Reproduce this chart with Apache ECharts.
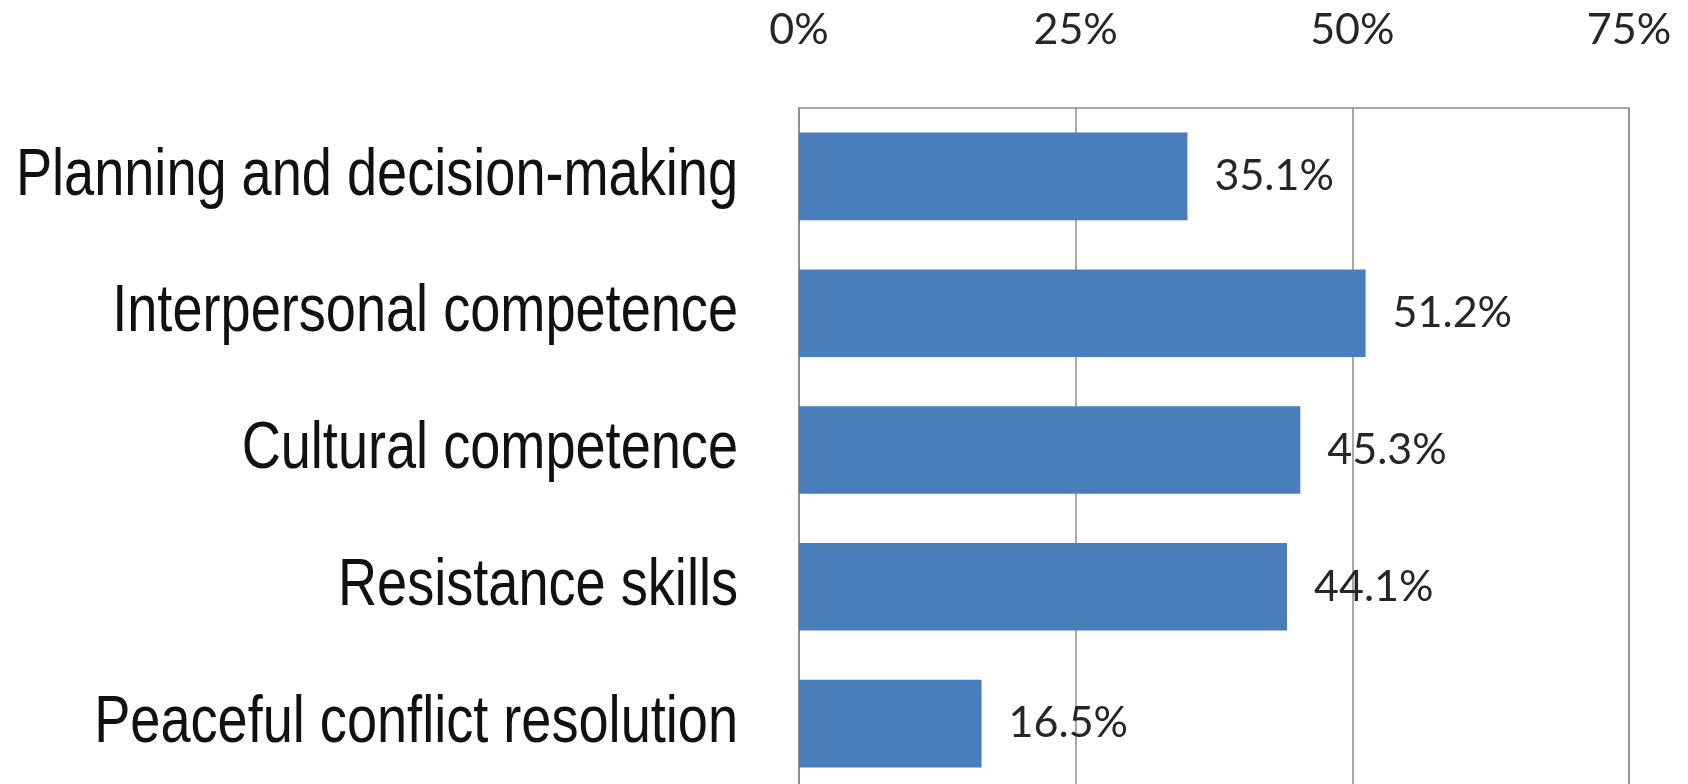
<!DOCTYPE html>
<html>
<head>
<meta charset="utf-8">
<script src="https://cdn.jsdelivr.net/npm/echarts@6/dist/echarts.min.js"></script>
<style>
  html, body { margin: 0; padding: 0; background: #fff; }
  #chart { width: 1688px; height: 784px; }
</style>
</head>
<body>
<div id="chart"></div>
<script>
// Life-skill areas and the share of programmes covering each
const categories = [
  'Planning and decision-making',
  'Interpersonal competence',
  'Cultural competence',
  'Resistance skills',
  'Peaceful conflict resolution'
];
const shares = [35.1, 51.2, 45.3, 44.1, 16.5];
const axisTicks = [0, 25, 50, 75];

const chart = echarts.init(document.getElementById('chart'), null, { renderer: 'canvas' });

chart.setOption({
  backgroundColor: '#ffffff',
  animation: false,
  grid: {
    left: 799,
    top: 108,
    width: 830,
    height: 684,
    show: true,
    borderColor: '#8c8c8c',
    borderWidth: 1.5,
    outerBoundsMode: 'none',
    containLabel: false
  },
  xAxis: {
    type: 'value',
    position: 'top',
    min: axisTicks[0],
    max: axisTicks[axisTicks.length - 1],
    interval: axisTicks[1] - axisTicks[0],
    axisLine: { show: false },
    axisTick: { show: false },
    splitLine: { show: true, lineStyle: { color: '#8c8c8c', width: 1.5 } },
    axisLabel: {
      formatter: v => v + '%',
      fontFamily: 'Lato, "Open Sans", sans-serif',
      fontSize: 43,
      color: '#262626',
      verticalAlign: 'middle',
      margin: 78
    }
  },
  yAxis: {
    type: 'category',
    data: categories,
    inverse: true,
    axisLine: { show: true, lineStyle: { color: '#8c8c8c', width: 1.5 } },
    axisTick: { show: false },
    // category names are drawn below as narrowed text
    axisLabel: { show: false }
  },
  series: [{
    type: 'bar',
    data: shares,
    barCategoryGap: '36%',
    itemStyle: { color: '#4a7ebb' },
    label: {
      show: true,
      position: 'right',
      distance: 27,
      formatter: p => p.value.toFixed(1) + '%',
      fontFamily: 'Lato, "Open Sans", sans-serif',
      fontSize: 43,
      color: '#262626'
    }
  }]
});

// Category names: narrow sans text, right-aligned 61px left of the axis,
// vertically centred on each category band of the y axis.
const axisX = chart.convertToPixel({ xAxisIndex: 0 }, axisTicks[0]);
chart.setOption({
  graphic: categories.map(name => ({
    type: 'text',
    x: axisX - 61,
    y: chart.convertToPixel({ yAxisIndex: 0 }, name),
    scaleX: 0.82,
    silent: true,
    style: {
      text: name,
      fill: '#111111',
      fontSize: 66,
      fontFamily: '"Liberation Sans", Arial, sans-serif',
      align: 'right',
      verticalAlign: 'middle'
    }
  }))
});
</script>
</body>
</html>
